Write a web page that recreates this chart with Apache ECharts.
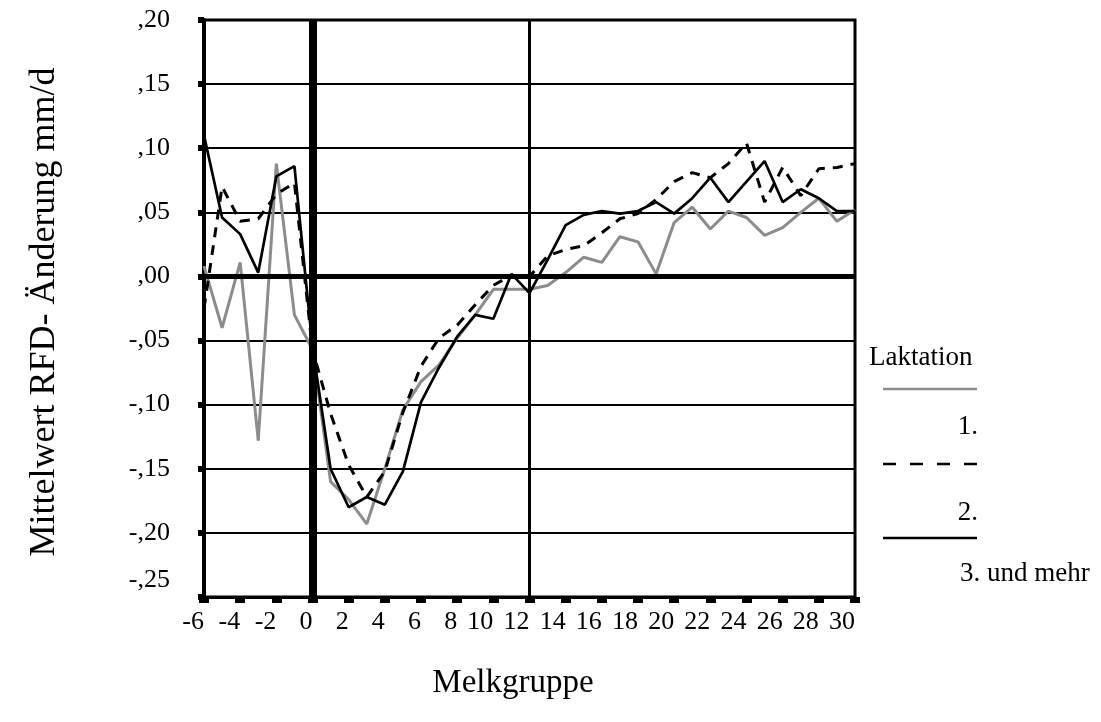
<!DOCTYPE html>
<html>
<head>
<meta charset="utf-8">
<script src="https://cdn.jsdelivr.net/npm/echarts@6/dist/echarts.min.js"></script>
<style>
html,body{margin:0;padding:0;background:#fff;}
#chart{width:1101px;height:722px;}
</style>
</head>
<body>
<div id="chart"></div>
<script>
// Melkgruppe (x categories)
const melkgruppe = [-6,-5,-4,-3,-2,-1,0,1,2,3,4,5,6,7,8,9,10,11,12,13,14,15,16,17,18,19,20,21,22,23,24,25,26,27,28,29,30];
// Laktation 1. (grey)
const lakt1 = [0.008,-0.040,0.011,-0.128,0.088,-0.030,-0.057,-0.160,-0.174,-0.193,-0.150,-0.104,-0.082,-0.069,-0.048,-0.030,-0.010,-0.010,-0.010,-0.007,0.003,0.015,0.011,0.031,0.027,0.002,0.042,0.054,0.037,0.051,0.046,0.032,0.038,0.050,0.061,0.043,0.052];
// Laktation 2. (dashed)
const lakt2 = [-0.025,0.070,0.043,0.045,0.064,0.073,-0.057,-0.107,-0.147,-0.172,-0.152,-0.106,-0.070,-0.048,-0.038,-0.022,-0.007,0.001,0.000,0.016,0.021,0.024,0.034,0.045,0.049,0.060,0.074,0.081,0.077,0.088,0.104,0.058,0.085,0.063,0.084,0.085,0.088];
// Laktation 3. und mehr (solid black)
const lakt3 = [0.110,0.046,0.033,0.003,0.078,0.086,-0.055,-0.150,-0.180,-0.172,-0.178,-0.152,-0.098,-0.071,-0.047,-0.030,-0.033,0.002,-0.013,0.013,0.040,0.048,0.051,0.049,0.051,0.058,0.049,0.061,0.077,0.058,0.074,0.090,0.058,0.068,0.061,0.051,0.051];
// Y tick values and labels
const yTicks = [-0.25,-0.20,-0.15,-0.10,-0.05,0.00,0.05,0.10,0.15,0.20];
const yTickLabels = ['-,25','-,20','-,15','-,10','-,05',',00',',05',',10',',15',',20'];
const seriesNames = ['1.','2.','3. und mehr'];
const legendTitle = 'Laktation';
const xTitle = 'Melkgruppe';
const yTitle = 'Mittelwert RFD- Änderung mm/d';

const FONT = '"Liberation Serif","Times New Roman",serif';
const pairs = arr => melkgruppe.map((x, i) => [x, arr[i]]);

const chart = echarts.init(document.getElementById('chart'));
chart.setOption({
  animation: false,
  backgroundColor: '#fff',
  grid: {left: 204, right: 246, top: 20, bottom: 125, show: true, borderColor: '#000', borderWidth: 3, backgroundColor: 'transparent'},
  xAxis: {
    type: 'value', min: -6, max: 30, interval: 2,
    axisLine: {show: true, onZero: false, lineStyle: {color: '#000', width: 3}},
    axisTick: {show: true, length: 6, lineStyle: {color: '#000', width: 10}},
    axisLabel: {color: '#000', fontFamily: FONT, fontSize: 26, align: 'right', margin: 12},
    splitLine: {show: false}
  },
  yAxis: {
    type: 'value', min: -0.25, max: 0.20, interval: 0.05,
    axisLine: {show: true, onZero: false, lineStyle: {color: '#000', width: 4}},
    axisTick: {show: true, length: 6, lineStyle: {color: '#000', width: 6}},
    axisLabel: {
      color: '#000', fontFamily: FONT, fontSize: 26, margin: 34,
      formatter: v => {
        const i = yTicks.findIndex(t => Math.abs(t - v) < 1e-9);
        const s = i >= 0 ? yTickLabels[i] : '';
        return i === 0 ? '{low|' + s + '}' : s;
      },
      rich: {low: {fontFamily: FONT, fontSize: 26, color: '#000', padding: [0, 0, 34, 0]}}
    },
    splitLine: {show: true, lineStyle: {color: '#000', width: 2}}
  },
  graphic: [
    {type: 'text', style: {text: xTitle, x: 513, y: 683, fill: '#000', font: '33px ' + FONT, textAlign: 'center', textVerticalAlign: 'middle'}},
    {type: 'text', rotation: Math.PI / 2, x: 45, y: 312, style: {text: yTitle, x: 0, y: 0, fill: '#000', font: '36px ' + FONT, textAlign: 'center', textVerticalAlign: 'middle'}},
    {type: 'text', style: {text: legendTitle, x: 869, y: 358, fill: '#000', font: '27px ' + FONT, textAlign: 'left', textVerticalAlign: 'middle'}},
    {type: 'line', shape: {x1: 883, y1: 389, x2: 977, y2: 389}, style: {stroke: '#8c8c8c', lineWidth: 2.5}},
    {type: 'text', style: {text: seriesNames[0], x: 978, y: 427, fill: '#000', font: '27px ' + FONT, textAlign: 'right', textVerticalAlign: 'middle'}},
    {type: 'line', shape: {x1: 883, y1: 464, x2: 977, y2: 464}, style: {stroke: '#000', lineWidth: 2.5, lineDash: [13, 14]}},
    {type: 'text', style: {text: seriesNames[1], x: 978, y: 513, fill: '#000', font: '27px ' + FONT, textAlign: 'right', textVerticalAlign: 'middle'}},
    {type: 'line', shape: {x1: 883, y1: 538, x2: 977, y2: 538}, style: {stroke: '#000', lineWidth: 2.5}},
    {type: 'text', style: {text: seriesNames[2], x: 960, y: 574, fill: '#000', font: '27px ' + FONT, textAlign: 'left', textVerticalAlign: 'middle'}}
  ],
  series: [
    {
      type: 'line', name: 'ref', data: [], z: 1, silent: true,
      markLine: {
        silent: true, symbol: ['none', 'none'], label: {show: false},
        data: [
          {yAxis: 0, lineStyle: {color: '#000', width: 5, type: 'solid'}},
          {xAxis: 0, lineStyle: {color: '#000', width: 8, type: 'solid'}},
          {xAxis: 12, lineStyle: {color: '#000', width: 3, type: 'solid'}}
        ]
      }
    },
    {type: 'line', name: seriesNames[0], data: pairs(lakt1), z: 3, showSymbol: false, symbol: 'none',
     lineStyle: {color: '#8c8c8c', width: 3}},
    {type: 'line', name: seriesNames[1], data: pairs(lakt2), z: 4, showSymbol: false, symbol: 'none',
     lineStyle: {color: '#000', width: 3, type: [10, 8]}},
    {type: 'line', name: seriesNames[2], data: pairs(lakt3), z: 5, showSymbol: false, symbol: 'none',
     lineStyle: {color: '#000', width: 2.7}}
  ]
});
</script>
</body>
</html>
